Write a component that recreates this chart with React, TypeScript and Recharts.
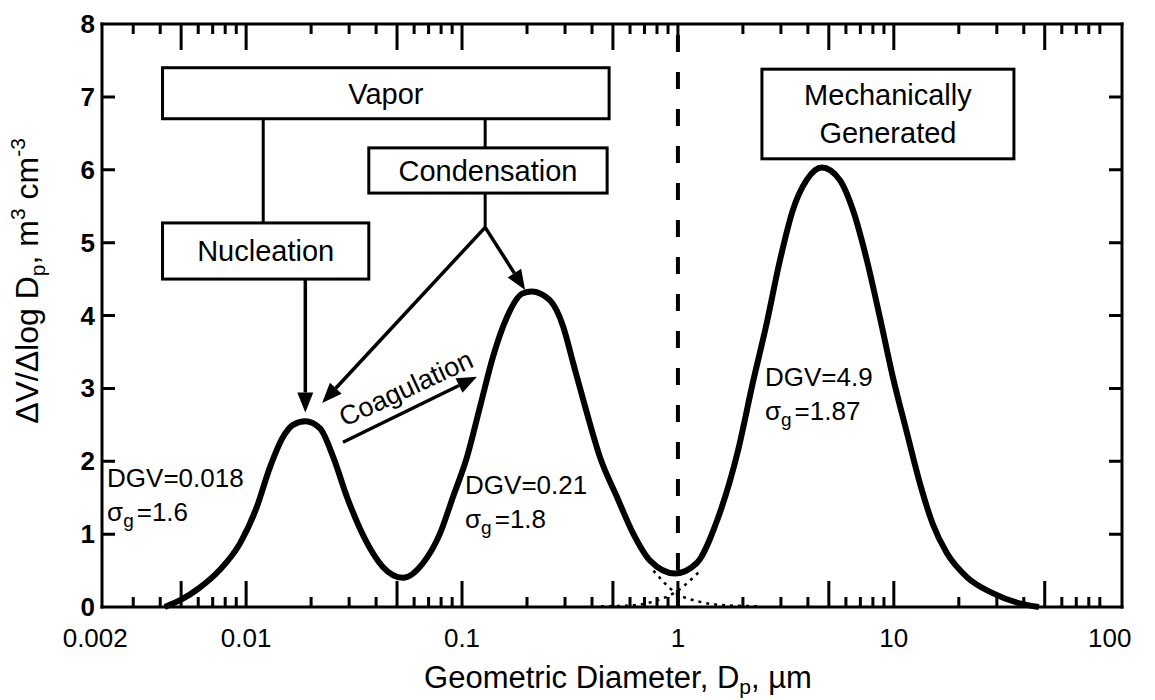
import React from 'react';
import { LineChart, Line, XAxis, YAxis, ReferenceLine, ReferenceArea, ReferenceDot } from 'recharts';

// summed volume distribution
const diameters = [
  0.0042, 0.005, 0.006, 0.0075, 0.0094, 0.0112, 0.0129, 0.0148, 0.0165, 0.0188,
  0.022, 0.0253, 0.0294, 0.0363, 0.043, 0.0533, 0.0659, 0.0791, 0.0908, 0.1055,
  0.121, 0.139, 0.1616, 0.19, 0.21, 0.255, 0.294, 0.327, 0.379, 0.435,
  0.522, 0.62, 0.741, 0.97, 1.22, 1.52, 1.9, 2.22, 2.58, 2.97,
  3.41, 3.95, 4.64, 5.62, 6.46, 7.5, 8.61, 9.89, 11.5, 13.2,
  15.1, 17.6, 21.8, 28.7, 38.3, 47,
];
const volumes = [
  0, 0.1, 0.25, 0.5, 0.88, 1.37, 1.92, 2.33, 2.5, 2.55,
  2.45, 2.06, 1.5, 0.88, 0.55, 0.4, 0.6, 1.01, 1.51, 2.06,
  2.74, 3.43, 3.98, 4.3, 4.33, 4.21, 3.85, 3.35, 2.66, 2.06,
  1.51, 1.01, 0.64, 0.46, 0.6, 1.19, 2.15, 3.07, 3.9, 4.76,
  5.45, 5.86, 6.03, 5.86, 5.45, 4.76, 3.98, 3.16, 2.39, 1.7,
  1.15, 0.74, 0.41, 0.19, 0.05, 0,
];

// dotted tails of the two overlapping modes around 1 um
const fineTailD = [0.77, 0.97, 1.27, 1.74, 2.4];
const fineTailV = [0.5, 0.2, 0.07, 0.02, 0.01];
const coarseTailD = [0.44, 0.6, 0.78, 0.97, 1.27];
const coarseTailV = [0.01, 0.02, 0.08, 0.2, 0.5];

const xLabelValues = [0.002, 0.01, 0.1, 1, 10, 100];
const xLabelText = ['0.002', '0.01', '0.1', '1', '10', '100'];
const decades = [0.001, 0.01, 0.1, 1, 10];
const minorSteps = [2, 3, 4, 6, 7, 8, 9];
const majorSteps = [1, 5];
const yTicks = [0, 1, 2, 3, 4, 5, 6, 7, 8];
const yInner = [1, 2, 3, 4, 5, 6, 7];

// axis frame in the figure runs a little past 0.002 and 100
const X_DOMAIN: [number, number] = [0.00215, 114];

const FONT = '"Liberation Sans", Arial, Helvetica, sans-serif';

// plot box size, used to keep only both ends of a full-span line as tick marks
const PLOT_W = 1020;
const PLOT_H = 583;
const endDash = (len: number, span: number) => `${len} ${span - 2 * len} ${len} ${span}`;

const curve = diameters.map((d, i) => ({ d, v: volumes[i] }));
const fineTail = fineTailD.map((d, i) => ({ d, v: fineTailV[i] }));
const coarseTail = coarseTailD.map((d, i) => ({ d, v: coarseTailV[i] }));

const inFrame = (v: number) => v > X_DOMAIN[0] && v < 100;
const makeTicks = (mult: number[]) =>
  decades.flatMap((dec) => mult.map((s) => Number((dec * s).toPrecision(3)))).filter(inFrame);
const minorTicks = makeTicks(minorSteps);
const majorTicks = makeTicks(majorSteps);

function XLabel({ x, y, payload }: any) {
  const li = xLabelValues.findIndex((t) => Math.abs(t - payload.value) / t < 1e-6);
  return (
    <text x={x} y={y + 40} textAnchor="middle" fontSize={26} fontFamily={FONT} fill="#000">
      {li >= 0 ? xLabelText[li] : ''}
    </text>
  );
}

function YLabel({ x, y, payload }: any) {
  return (
    <text x={x - 7} y={y + 9} textAnchor="end" fontSize={26} fontWeight="bold" fontFamily={FONT} fill="#000">
      {payload.value}
    </text>
  );
}

const XTitle = ({ viewBox }: any) => (
  <text x={viewBox.x + viewBox.width / 2 + 6} y={viewBox.y + 81} textAnchor="middle" fontSize={31} fontFamily={FONT} fill="#000">
    Geometric Diameter, D<tspan fontSize={21} dy={6}>p</tspan>
    <tspan dy={-6}>, µm</tspan>
  </text>
);

const YTitle = () => (
  <text x={38} y={281} transform="rotate(-90 38 281)" textAnchor="middle" fontSize={32} fontFamily={FONT} fill="#000">
    ΔV/Δlog D<tspan fontSize={21} dy={7}>p</tspan>
    <tspan dy={-7}>, m</tspan>
    <tspan fontSize={21} dy={-13}>3</tspan>
    <tspan dy={13}> cm</tspan>
    <tspan fontSize={21} dy={-13}>-3</tspan>
  </text>
);

const boxShape = (lines: string[], fontSize: number, gap: number) => (p: any) => {
  const { x, y, width, height } = p;
  const cx = x + width / 2;
  const cy = y + height / 2;
  return (
    <g>
      <rect x={x} y={y} width={width} height={height} fill="#fff" stroke="#000" strokeWidth={3} />
      {lines.map((t, i) => (
        <text
          key={i}
          x={cx}
          y={cy + (i - (lines.length - 1) / 2) * gap + fontSize * 0.36}
          textAnchor="middle"
          fontSize={fontSize}
          fontFamily={FONT}
          fill="#000"
        >
          {t}
        </text>
      ))}
    </g>
  );
};

const arrowShape = (p: any) => {
  const { x1, y1, x2, y2 } = p;
  const a = Math.atan2(y2 - y1, x2 - x1);
  const L = 20;
  const W = 8;
  const bx = x2 - L * Math.cos(a);
  const by = y2 - L * Math.sin(a);
  const px = -Math.sin(a) * W;
  const py = Math.cos(a) * W;
  return (
    <g>
      <line x1={x1} y1={y1} x2={bx} y2={by} stroke="#000" strokeWidth={3.5} />
      <polygon points={`${x2},${y2} ${bx + px},${by + py} ${bx - px},${by - py}`} fill="#000" />
    </g>
  );
};

const modeLabel = (dgv: string, sg: string) => (p: any) => (
  <g fontFamily={FONT} fontSize={26} fill="#000">
    <text x={p.cx} y={p.cy + 9}>DGV={dgv}</text>
    <text x={p.cx} y={p.cy + 43}>
      σ<tspan fontSize={19} dy={6}>g</tspan>
      <tspan dy={-6} dx={3}>={sg}</tspan>
    </text>
  </g>
);

const coagText = (p: any) => (
  <text
    x={p.cx}
    y={p.cy}
    transform={`rotate(-25 ${p.cx} ${p.cy})`}
    textAnchor="middle"
    dominantBaseline="central"
    fontSize={27}
    fontFamily={FONT}
    fill="#000"
  >
    Coagulation
  </text>
);

const frame = { stroke: '#000', strokeWidth: 3, strokeLinecap: 'square' as const };

const xBase = {
  dataKey: 'd',
  type: 'number' as const,
  scale: 'log' as const,
  domain: X_DOMAIN,
  allowDataOverflow: true,
  interval: 0 as const,
};

export default function App() {
  return (
    <div style={{ position: 'absolute', left: 0, top: 0, background: '#fff' }}>
      <LineChart width={1155} height={700} data={curve} margin={{ top: 20, right: 32, bottom: 33, left: 42 }}>
        <XAxis
          {...xBase}
          ticks={xLabelValues}
          tick={(p: any) => <XLabel {...p} />}
          tickLine={false}
          tickSize={0}
          tickMargin={0}
          axisLine={frame}
          height={60}
          label={{ content: (p: any) => <XTitle {...p} /> }}
        />
        <XAxis {...xBase} xAxisId="top" orientation="top" ticks={[]} tick={false} tickLine={false} axisLine={frame} height={4} />
        <YAxis
          type="number"
          domain={[0, 8]}
          ticks={yTicks}
          interval={0}
          tick={(p: any) => <YLabel {...p} />}
          tickLine={false}
          tickSize={0}
          tickMargin={0}
          axisLine={frame}
          width={60}
          label={{ content: () => <YTitle /> }}
        />
        <YAxis yAxisId="right" orientation="right" type="number" domain={[0, 8]} tick={false} tickLine={false} axisLine={frame} width={1} />

        {/* inward tick marks on all four sides */}
        {minorTicks.map((v) => (
          <ReferenceLine key={`mi${v}`} x={v} stroke="#000" strokeWidth={3} strokeDasharray={endDash(10, PLOT_H)} />
        ))}
        {majorTicks.map((v) => (
          <ReferenceLine key={`ma${v}`} x={v} stroke="#000" strokeWidth={3} strokeDasharray={endDash(26, PLOT_H)} />
        ))}
        {yInner.map((v) => (
          <ReferenceLine key={`y${v}`} y={v} stroke="#000" strokeWidth={3} strokeDasharray={endDash(13, PLOT_W)} />
        ))}

        <ReferenceLine x={1} stroke="#000" strokeWidth={4} strokeDasharray="17 20" />

        <ReferenceArea x1={0.0041} x2={0.48} y1={6.7} y2={7.4} shape={boxShape(['Vapor'], 29, 0)} />
        <ReferenceArea x1={0.037} x2={0.47} y1={5.68} y2={6.3} shape={boxShape(['Condensation'], 29, 0)} />
        <ReferenceArea x1={0.0041} x2={0.037} y1={4.5} y2={5.27} shape={boxShape(['Nucleation'], 29, 0)} />
        <ReferenceArea x1={2.45} x2={36} y1={6.15} y2={7.38} shape={boxShape(['Mechanically', 'Generated'], 29, 38)} />

        <ReferenceLine segment={[{ x: 0.012, y: 6.7 }, { x: 0.012, y: 5.27 }]} stroke="#000" strokeWidth={3} />
        <ReferenceLine segment={[{ x: 0.128, y: 6.7 }, { x: 0.128, y: 6.3 }]} stroke="#000" strokeWidth={3} />
        <ReferenceLine segment={[{ x: 0.128, y: 5.68 }, { x: 0.128, y: 5.21 }]} stroke="#000" strokeWidth={3} />
        <ReferenceLine segment={[{ x: 0.128, y: 5.21 }, { x: 0.0225, y: 2.8 }]} shape={arrowShape} />
        <ReferenceLine segment={[{ x: 0.128, y: 5.21 }, { x: 0.196, y: 4.35 }]} shape={arrowShape} />
        <ReferenceLine segment={[{ x: 0.0188, y: 4.5 }, { x: 0.0188, y: 2.67 }]} shape={arrowShape} />
        <ReferenceLine segment={[{ x: 0.0281, y: 2.26 }, { x: 0.1173, y: 3.16 }]} shape={arrowShape} />

        <ReferenceDot x={0.0551} y={3.0} shape={coagText} />
        <ReferenceDot x={0.00227} y={1.77} shape={modeLabel('0.018', '1.6')} />
        <ReferenceDot x={0.1033} y={1.67} shape={modeLabel('0.21', '1.8')} />
        <ReferenceDot x={2.53} y={3.16} shape={modeLabel('4.9', '1.87')} />

        <Line data={fineTail} dataKey="v" type="monotone" stroke="#000" strokeWidth={2.5} strokeDasharray="3 5" dot={false} isAnimationActive={false} />
        <Line data={coarseTail} dataKey="v" type="monotone" stroke="#000" strokeWidth={2.5} strokeDasharray="3 5" dot={false} isAnimationActive={false} />
        <Line dataKey="v" type="monotone" stroke="#000" strokeWidth={6} dot={false} isAnimationActive={false} />
      </LineChart>
    </div>
  );
}
